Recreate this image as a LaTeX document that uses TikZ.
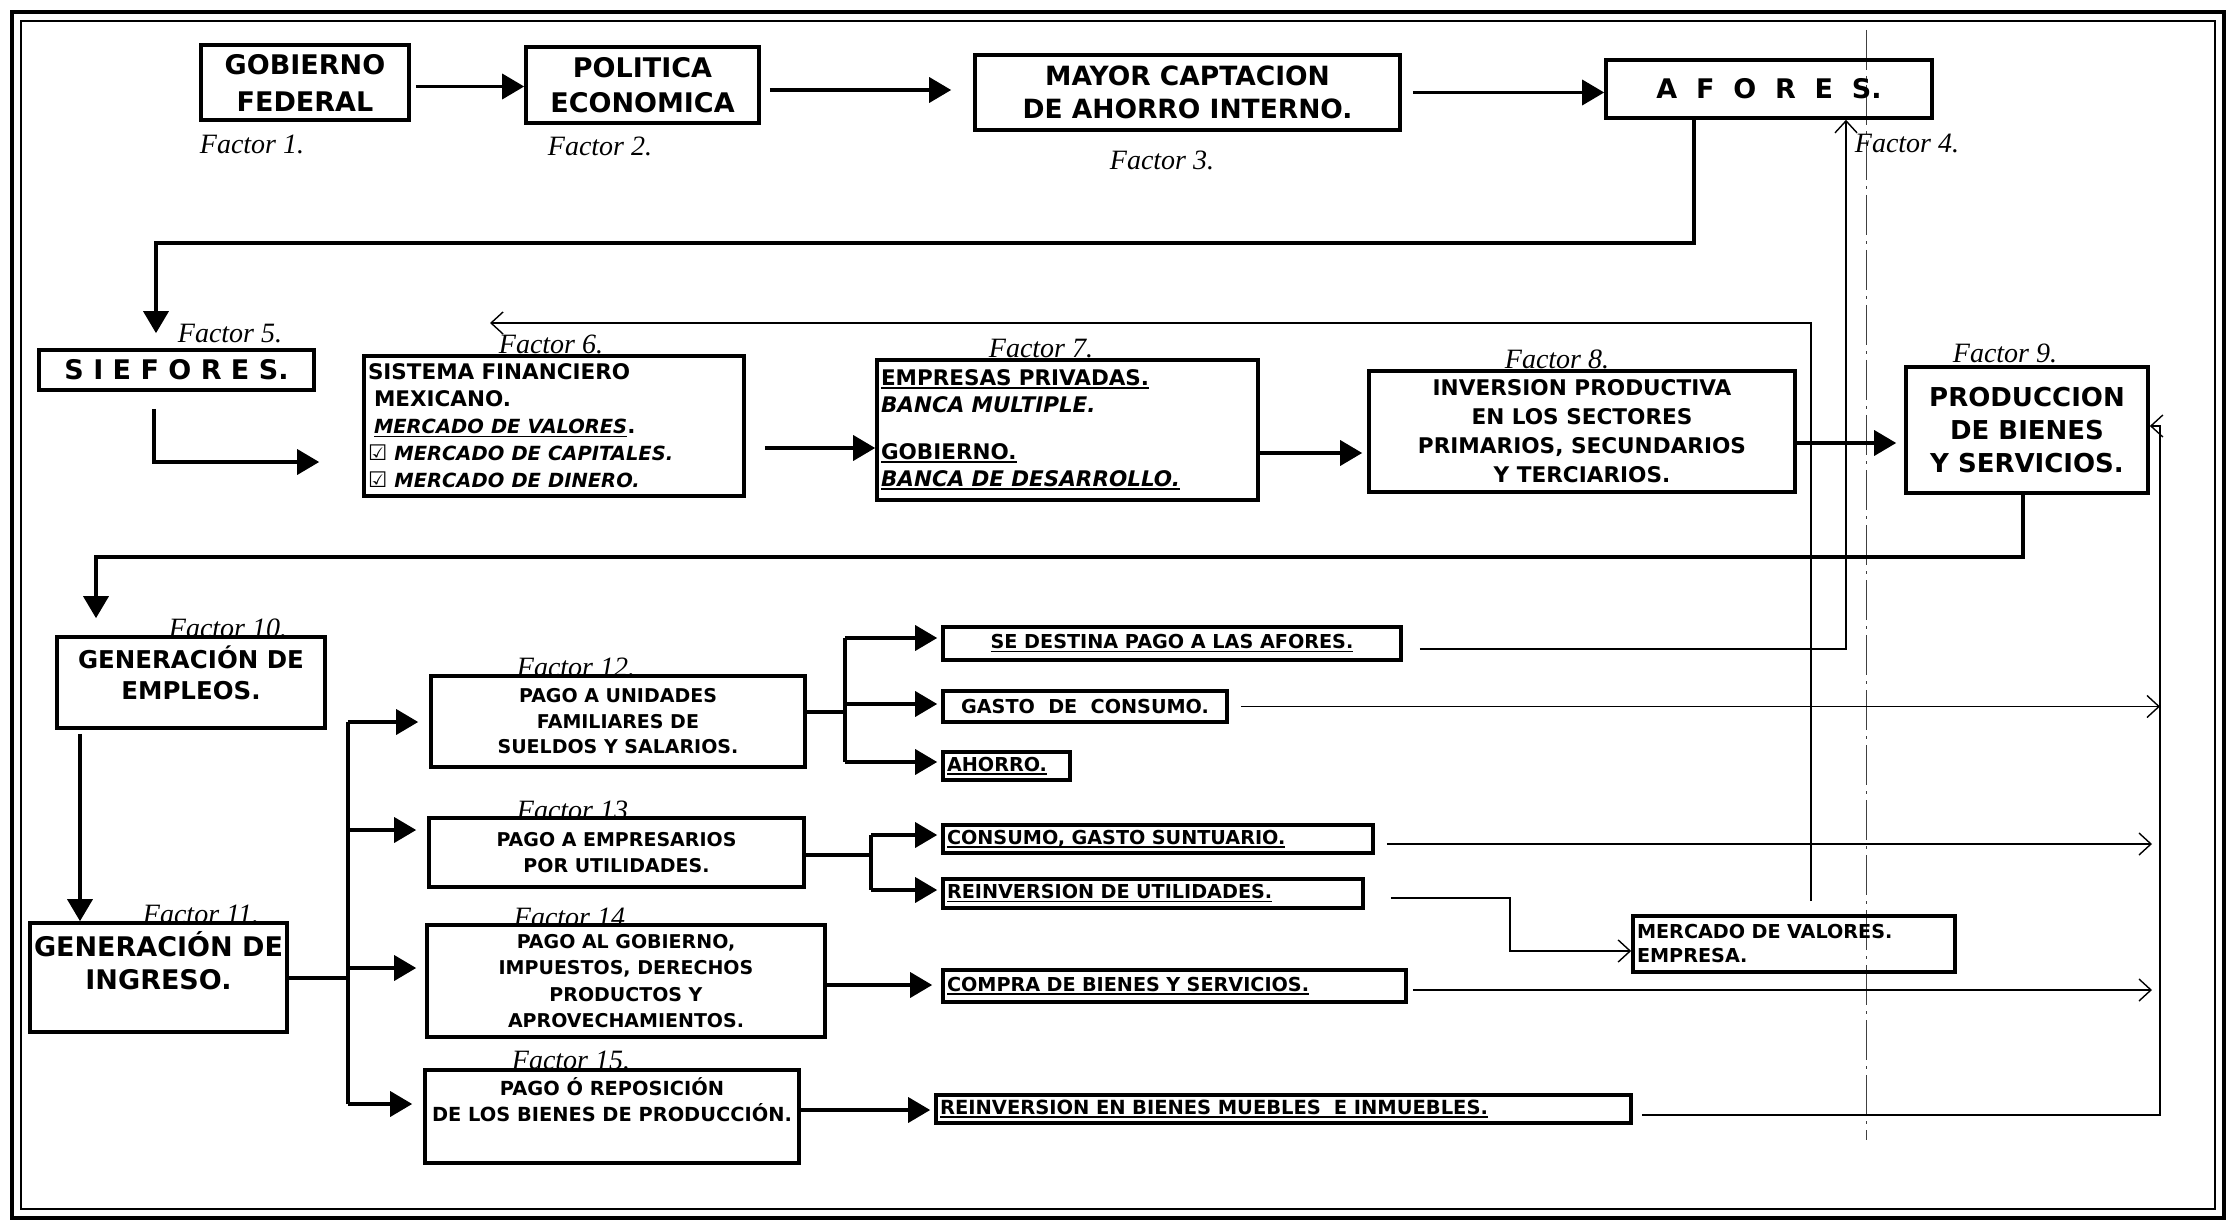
\documentclass[tikz,border=0pt]{standalone}
\usepackage{fontspec}
\setmainfont{DejaVu Sans}
\newfontfamily\fserif{Liberation Serif}
\newfontfamily\symf{DejaVu Sans}
\usetikzlibrary{arrows.meta}
\newcommand\fs[2]{\fontsize{#1}{#2}\selectfont}
\newcommand\myul[1]{\leavevmode\setbox0=\hbox{#1}\rlap{\rule[-0.17em]{\wd0}{0.085em}}\box0}
\newcommand\chk{{\symf\mdseries\upshape ☑}}
\tikzset{
  box/.style={draw, line width=3.6pt, inner sep=0pt, align=center},
  sbox/.style={draw, line width=3.6pt, inner xsep=4pt, inner ysep=0pt, font=\bfseries\fs{19.2}{22}},
  txt/.style={inner sep=0pt, align=center},
  thk/.style={line width=3.5pt},
  arr/.style={line width=3.5pt, -{Triangle[length=22pt,width=25pt]}},
  oarr/.style={line width=1.4pt, -{Straight Barb[length=12pt,width=22pt]}},
  fac/.style={inner sep=0pt, font=\fserif\itshape\fs{28}{30}},
}
\begin{document}
\begin{tikzpicture}[x=1pt,y=-1pt]
\useasboundingbox (0,0) rectangle (2233,1230);
% frame
\draw[line width=4pt] (12,12) rectangle (2224,1218);
\draw[line width=1.5pt] (21,21) rectangle (2215,1209);
% scan guide line
\draw[line width=0.8pt, black!75, dash pattern=on 40pt off 6pt on 3pt off 6pt] (1866,30) -- (1866,1140);

% ---- row 1
\node[box, minimum width=208pt, minimum height=75pt, font=\bfseries\fs{27}{37}] (B1) at (305,82.5) {GOBIERNO\\FEDERAL};
\node[box, minimum width=233pt, minimum height=76pt, font=\bfseries\fs{27}{35}] (B2) at (642.5,85) {POLITICA\\ECONOMICA};
\node[box, minimum width=425pt, minimum height=75pt, font=\bfseries\fs{26.5}{33}] (B3) at (1187.5,92.5) {MAYOR CAPTACION\\DE AHORRO INTERNO.};
\node[box, minimum width=326pt, minimum height=58pt, font=\bfseries\fs{27}{30}] (B4) at (1769,89) {A\ \ F\ \ O\ \ R\ \ E\ \ S.};

\node[fac] (F1) at (252,144) {Factor 1.};
\node[fac] (F2) at (600,146) {Factor 2.};
\node[fac] (F3) at (1162,160) {Factor 3.};
\node[fac] (F4) at (1907,143) {Factor 4.};

% ---- row 2
\node[box, minimum width=275pt, minimum height=40pt, font=\bfseries\fs{27}{30}] (B5) at (176.5,370) {S I E F O R E S.};
\node[box, minimum width=380pt, minimum height=140pt, text width=372pt, inner xsep=4pt, align=left, font=\bfseries\fs{21.5}{27}] (B6) at (554,426)
  {SISTEMA FINANCIERO\\\hspace*{6pt}MEXICANO.\\\hspace*{6pt}\myul{\itshape\fs{19.5}{27}MERCADO DE VALORES}.\\\chk\ \textit{\fs{19.5}{27}MERCADO DE CAPITALES.}\\\chk\ \textit{\fs{19.5}{27}MERCADO DE DINERO.}};
\node[box, minimum width=381pt, minimum height=140pt, text width=373pt, inner xsep=4pt, align=left, font=\bfseries\fs{21.5}{27}] (B7) at (1067.5,430)
  {\myul{EMPRESAS PRIVADAS.}\\\textit{BANCA MULTIPLE.}\\[20pt]\myul{GOBIERNO.}\\\myul{\itshape BANCA DE DESARROLLO.}};
\node[box, minimum width=426pt, minimum height=121pt, font=\bfseries\fs{21.6}{29}] (B8) at (1582,431.5) {INVERSION PRODUCTIVA\\EN LOS SECTORES\\PRIMARIOS, SECUNDARIOS\\Y TERCIARIOS.};
\node[box, minimum width=242pt, minimum height=126pt, font=\bfseries\fs{26}{33}] (B9) at (2027,430) {PRODUCCION\\DE BIENES\\Y SERVICIOS.};

\node[fac] (F5) at (230,334) {Factor 5.};
\node[fac] (F6) at (551,344) {Factor 6.};
\node[fac] (F7) at (1041,349) {Factor 7.};
\node[fac] (F8) at (1557,359) {Factor 8.};
\node[fac] (F9) at (2005,353) {Factor 9.};

% ---- row 3 left
\node[box, minimum width=268pt, minimum height=91pt] (B10) at (191,682.5) {};
\node[txt, font=\bfseries\fs{24.5}{31}] (B10t) at (191,673) {GENERACIÓN DE\\EMPLEOS.};
\node[box, minimum width=257pt, minimum height=109pt] (B11) at (158.5,977.5) {};
\node[txt, font=\bfseries\fs{27}{33}] (B11t) at (158.5,961) {GENERACIÓN DE\\INGRESO.};
\node[fac] (F10) at (228,628) {Factor 10.};
\node[fac] (F11) at (201,914) {Factor 11.};

% ---- payments
\node[box, minimum width=374pt, minimum height=91pt, font=\bfseries\fs{19}{25.5}] (B12) at (618,721.5) {PAGO A UNIDADES\\FAMILIARES DE\\SUELDOS Y SALARIOS.};
\node[box, minimum width=375pt, minimum height=69pt, font=\bfseries\fs{19}{26}] (B13) at (616.5,852.5) {PAGO A EMPRESARIOS\\POR UTILIDADES.};
\node[box, minimum width=398pt, minimum height=112pt, font=\bfseries\fs{19}{26.3}] (B14) at (626,981) {PAGO AL GOBIERNO,\\IMPUESTOS, DERECHOS\\PRODUCTOS Y\\APROVECHAMIENTOS.};
\node[box, minimum width=374pt, minimum height=93pt] (B15) at (612,1116.5) {};
\node[txt, font=\bfseries\fs{19.4}{26}] (B15t) at (612,1100) {PAGO Ó REPOSICIÓN\\DE LOS BIENES DE PRODUCCIÓN.};
\node[fac] (F12) at (576,667) {Factor 12.};
\node[fac] (F13) at (576,810) {Factor 13.};
\node[fac] (F14) at (573,917) {Factor 14.};
\node[fac] (F15) at (571,1060) {Factor 15.};

% ---- destination boxes
\node[sbox, minimum width=458pt, minimum height=33pt] (S1) at (1172,643.5) {\myul{SE DESTINA PAGO A LAS AFORES.}};
\node[sbox, minimum width=284pt, minimum height=31pt] (S2) at (1085,706.5) {GASTO\ \ DE\ \ CONSUMO.};
\node[sbox, text width=119pt, minimum height=28pt, align=left] (S3) at (1006.5,766) {\myul{AHORRO.}};
\node[sbox, text width=422pt, minimum height=28pt, align=left] (S4) at (1158,839) {\myul{CONSUMO, GASTO SUNTUARIO.}};
\node[sbox, text width=412pt, minimum height=29pt, align=left] (S5) at (1153,893.5) {\myul{REINVERSION DE UTILIDADES.}};
\node[sbox, text width=455pt, minimum height=32pt, align=left] (S6) at (1174.5,986) {\myul{COMPRA DE BIENES Y SERVICIOS.}};
\node[sbox, text width=687pt, minimum height=28pt, align=left, font=\bfseries\fs{19.5}{22}] (S7) at (1283.5,1109) {\myul{REINVERSION EN BIENES MUEBLES\ \ E INMUEBLES.}};
\node[sbox, text width=314pt, minimum height=56pt, align=left, font=\bfseries\fs{19.2}{24}] (S8) at (1794,944) {MERCADO DE VALORES.\\EMPRESA.};

% ---- thick connectors
\draw[arr, shorten <=5pt] ([yshift=-4pt]B1.east) -- ([yshift=-4pt]B1.east -| B2.west);
\draw[arr, shorten <=9pt, shorten >=22pt] ([yshift=-5pt]B2.east) -- ([yshift=-5pt]B2.east -| B3.west);
\draw[arr, shorten <=11pt] (B3.east) -- (B3.east -| B4.west);

\coordinate (k4a) at (1694,243);
\coordinate (k4b) at (156,243);
\draw[arr, shorten >=15pt] (B4.south -| k4a) -- (k4a) -- (k4b) -- (k4b |- B5.north);

\coordinate (k5) at (154,462);
\draw[arr, shorten <=17pt, shorten >=43pt] (B5.south -| k5) -- (k5) -- (k5 -| B6.west);

\draw[arr, shorten <=19pt] ([yshift=-22pt]B6.east) -- ([yshift=-22pt]B6.east -| B7.west);
\draw[arr, shorten >=5pt] ([yshift=-23pt]B7.east) -- ([yshift=-23pt]B7.east -| B8.west);
\draw[arr, shorten >=8pt] ([yshift=-11.5pt]B8.east) -- ([yshift=-11.5pt]B8.east -| B9.west);

\coordinate (k9a) at (2023,557);
\coordinate (k9b) at (96,557);
\draw[arr, shorten >=17pt] (B9.south -| k9a) -- (k9a) -- (k9b) -- (k9b |- B10.north);

\coordinate (k10) at (80,700);
\draw[arr, shorten <=4pt] (B10.south -| k10) -- (B11.north -| k10);

% branch from Factor 11
\coordinate (j11) at (348,978);
\coordinate (j11t) at (348,722);
\coordinate (j13) at (348,830);
\coordinate (j14) at (348,968);
\coordinate (j11b) at (348,1104);
\draw[thk] (B11.east |- j11) -- (j11);
\draw[thk] (j11t) -- (j11b);
\draw[arr, shorten >=11pt] (j11t) -- (j11t -| B12.west);
\draw[arr, shorten >=11pt] (j13) -- (j13 -| B13.west);
\draw[arr, shorten >=9pt] (j14) -- (j14 -| B14.west);
\draw[arr, shorten >=11pt] (j11b) -- (j11b -| B15.west);

% branch from Factor 12
\coordinate (j12) at (845,712);
\coordinate (j12a) at (845,638);
\coordinate (j12b) at (845,704);
\coordinate (j12c) at (845,762);
\draw[thk] (B12.east |- j12) -- (j12);
\draw[thk] (j12a) -- (j12c);
\draw[arr, shorten >=4pt] (j12a) -- (j12a -| S1.west);
\draw[arr, shorten >=4pt] (j12b) -- (j12b -| S2.west);
\draw[arr, shorten >=4pt] (j12c) -- (j12c -| S3.west);

% branch from Factor 13
\coordinate (j13r) at (871,855);
\coordinate (j13a) at (871,835);
\coordinate (j13b) at (871,890);
\draw[thk] (B13.east |- j13r) -- (j13r);
\draw[thk] (j13a) -- (j13b);
\draw[arr, shorten >=4pt] (j13a) -- (j13a -| S4.west);
\draw[arr, shorten >=4pt] (j13b) -- (j13b -| S5.west);

\draw[arr, shorten >=9pt] ([yshift=-4pt]B14.east) -- ([yshift=-4pt]B14.east -| S6.west);
\draw[arr, shorten >=4pt] ([yshift=6.5pt]B15.east) -- ([yshift=6.5pt]B15.east -| S7.west);

% ---- thin connectors
\coordinate (t1) at (1846,649);
\draw[oarr, shorten <=17pt] (S1.east |- t1) -- (t1) -- (t1 |- B4.south);

\coordinate (vx) at (2160,700);
\draw[oarr, shorten <=12pt] (S2.east) -- (S2.east -| vx);
\draw[oarr, shorten <=12pt, shorten >=8pt] ([yshift=-5pt]S4.east) -- ([yshift=-5pt]S4.east -| vx);

\coordinate (t4a) at (1510,898);
\coordinate (t4b) at (1510,951);
\draw[oarr, shorten <=26pt] (S5.east |- t4a) -- (t4a) -- (t4b) -- (t4b -| S8.west);

\coordinate (t5a) at (1811,323);
\coordinate (t5b) at (490,323);
\draw[oarr, shorten <=13pt] (S8.north -| t5a) -- (t5a) -- (t5b);

\draw[oarr, shorten <=5pt, shorten >=8pt] ([yshift=-4pt]S6.east) -- ([yshift=-4pt]S6.east -| vx);

\coordinate (t7a) at (2160,1115);
\coordinate (t7b) at (2160,426);
\draw[oarr, shorten <=9pt] (S7.east |- t7a) -- (t7a) -- (t7b) -- (t7b -| B9.east);
\end{tikzpicture}
\end{document}
